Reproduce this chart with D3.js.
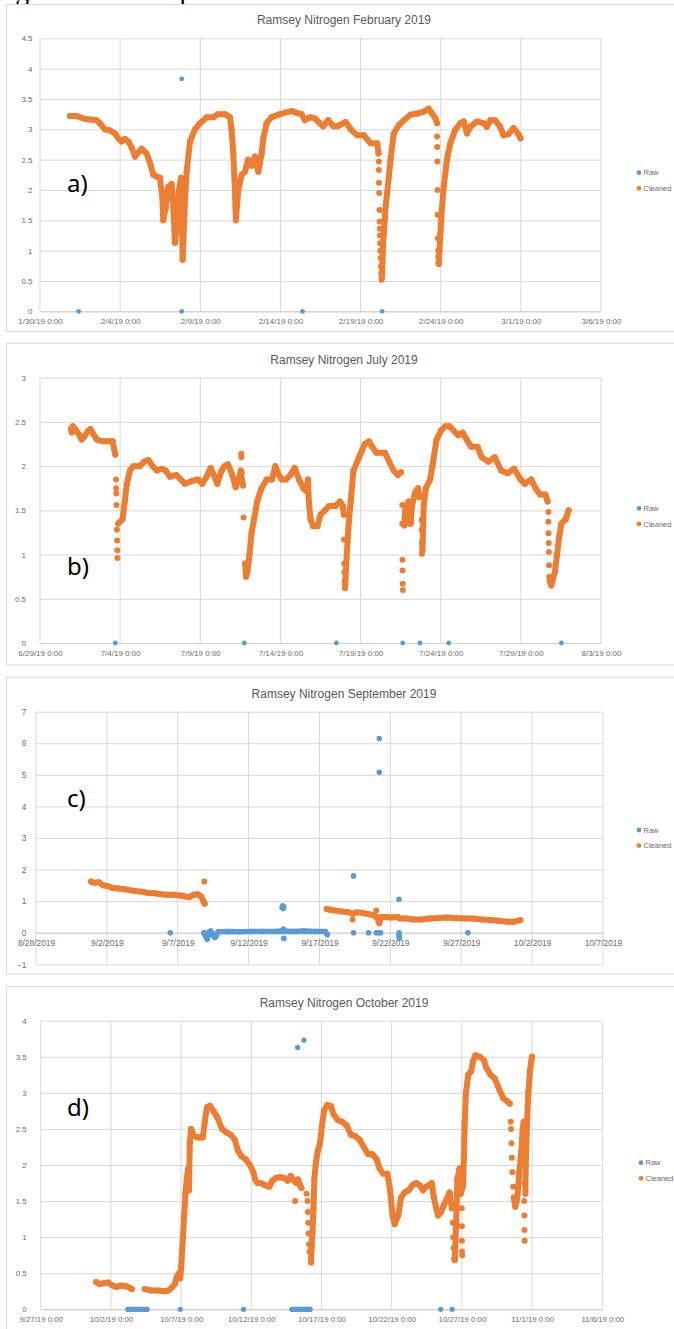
<!DOCTYPE html>
<html>
<head>
<meta charset="utf-8">
<script src="https://cdn.jsdelivr.net/npm/d3@7"></script>
<style>
  body { margin: 0; background: #fff; }
  svg { display: block; }
</style>
</head>
<body>
<script>
// ---------- data (day offsets from the first axis date, value) ----------
const titles = ['Ramsey Nitrogen February 2019', 'Ramsey Nitrogen July 2019', 'Ramsey Nitrogen September 2019', 'Ramsey Nitrogen October 2019'];
const startDates = ['2019-01-30', '2019-06-29', '2019-08-28', '2019-09-27'];
const spanDays = [35, 35, 40, 40];
const xTickFormats = ['%-m/%-d/%y %-H:%M', '%-m/%-d/%y %-H:%M', '%-m/%-d/%Y', '%-m/%-d/%y %-H:%M'];
const febYTicks = [0, 0.5, 1, 1.5, 2, 2.5, 3, 3.5, 4, 4.5];
const julYTicks = [0, 0.5, 1, 1.5, 2, 2.5, 3];
const sepYTicks = [-1, 0, 1, 2, 3, 4, 5, 6, 7];
const octYTicks = [0, 0.5, 1, 1.5, 2, 2.5, 3, 3.5, 4];
const legendNames = ['Raw', 'Cleaned'];
const tags = ['a)', 'b)', 'c)', 'd)'];

// February
const febRawDots = [[2.41, 0], [8.84, 3.83], [8.84, 0], [16.38, 0], [21.35, 0]];
const febCleanedTrace = [
  [[1.87,3.22],[2.29,3.22],[2.70,3.18],[3.12,3.16],[3.53,3.15],[3.74,3.10],[4.05,3.00],[4.37,2.98],[4.68,2.93],[4.89,2.85],[5.09,2.80],[5.30,2.84],[5.51,2.80],[5.72,2.70],[5.93,2.55],[6.13,2.62],[6.34,2.68],[6.65,2.60],[6.86,2.45],[7.07,2.25],[7.28,2.22],[7.48,2.20],[7.63,1.90],[7.69,1.50],[7.84,1.70],[8.00,2.05],[8.21,2.10],[8.32,1.70],[8.42,1.13],[8.52,1.40],[8.67,2.00],[8.80,2.20],[8.90,0.85],[9.04,1.80],[9.15,2.30],[9.36,2.80],[9.67,3.00],[9.98,3.10],[10.40,3.20],[10.81,3.20],[11.12,3.25],[11.54,3.25],[11.85,3.20],[11.95,3.00],[12.06,2.60],[12.16,2.00],[12.22,1.50],[12.37,2.00],[12.58,2.25],[12.79,2.30],[12.99,2.50],[13.20,2.40],[13.41,2.55],[13.62,2.30],[13.72,2.45],[13.83,2.60],[13.93,2.85],[14.14,3.10],[14.45,3.20],[14.97,3.25],[15.38,3.28],[15.70,3.30],[16.01,3.27],[16.32,3.25],[16.53,3.15],[16.84,3.20],[17.15,3.18],[17.46,3.10],[17.67,3.05],[17.98,3.15],[18.30,3.05],[18.55,3.05],[19.07,3.12],[19.38,3.00],[19.79,2.90],[20.21,2.90],[20.62,2.77],[21.04,2.77],[21.12,2.60]],
  [[21.34,0.55],[21.37,0.85],[21.41,1.15],[21.45,1.30],[21.52,1.55],[21.56,1.72],[21.66,1.95],[21.87,2.50],[22.07,2.93],[22.39,3.07],[22.70,3.15],[23.11,3.24],[23.53,3.26],[23.94,3.29],[24.25,3.34],[24.46,3.26],[24.67,3.18],[24.77,3.10]],
  [[24.88,0.78],[24.92,1.00],[24.98,1.28],[25.08,1.72],[25.19,2.05],[25.39,2.50],[25.60,2.77],[25.91,2.99],[26.22,3.10],[26.43,3.13],[26.64,2.93],[26.85,3.04],[27.26,3.13],[27.68,3.10],[27.88,3.04],[28.09,3.15],[28.40,3.15],[28.71,3.04],[28.92,2.90],[29.23,2.92],[29.54,3.02],[29.85,2.92],[29.98,2.85]]
];
const febCleanedDots = [[21.14,2.47],[21.14,2.33],[21.15,2.12],[21.16,1.95],[21.18,1.67],[21.19,1.48],[21.20,1.36],[21.21,1.25],[21.22,1.12],[21.23,1.00],[21.25,0.88],[21.27,0.74],[21.29,0.62],[21.31,0.52],[24.77,2.88],[24.78,2.71],[24.79,2.47],[24.80,2.00],[24.81,1.59],[24.83,1.20],[24.84,1.00],[24.85,0.90],[24.86,0.80]];

// July
const julRawDots = [[4.70,0],[12.75,0],[18.49,0],[22.63,0],[23.70,0],[25.50,0],[32.53,0]];
const julCleanedTrace = [
  [[1.93,2.42],[1.98,2.38],[2.05,2.45],[2.20,2.42],[2.47,2.35],[2.60,2.30],[2.74,2.33],[3.01,2.40],[3.15,2.42],[3.27,2.38],[3.54,2.30],[3.95,2.28],[4.35,2.28],[4.54,2.28],[4.62,2.20],[4.70,2.13]],
  [[4.88,1.35],[5.15,1.40],[5.29,1.60],[5.42,1.80],[5.61,1.95],[5.82,2.00],[6.23,2.00],[6.49,2.05],[6.76,2.07],[7.03,2.00],[7.30,1.95],[7.57,1.97],[7.84,1.95],[8.11,1.88],[8.51,1.90],[8.78,1.85],[9.04,1.80],[9.45,1.83],[9.85,1.85],[10.12,1.80],[10.39,1.88],[10.65,1.98],[10.84,1.90],[11.06,1.80],[11.33,1.95],[11.51,2.00],[11.73,2.02],[12.00,1.90],[12.21,1.76],[12.40,1.85],[12.53,1.95],[12.59,1.85],[12.67,1.78]],
  [[12.80,0.90],[12.86,0.75],[12.94,0.80],[13.07,1.00],[13.20,1.25],[13.34,1.38],[13.55,1.60],[13.82,1.75],[14.14,1.85],[14.47,1.85],[14.68,2.00],[14.90,1.90],[15.08,1.85],[15.35,1.85],[15.62,1.90],[15.89,1.98],[16.16,1.85],[16.43,1.75],[16.61,1.72],[16.72,1.85],[16.77,1.60],[16.88,1.40],[17.04,1.32],[17.31,1.32],[17.50,1.45],[17.77,1.50],[18.04,1.55],[18.44,1.55],[18.71,1.60],[18.89,1.55],[18.97,1.45]],
  [[19.03,0.62],[19.11,0.90],[19.24,1.30],[19.38,1.60],[19.56,1.95],[19.91,2.10],[20.26,2.25],[20.53,2.28],[20.72,2.22],[20.99,2.15],[21.26,2.15],[21.52,2.15],[21.79,2.05],[22.06,1.95],[22.33,1.90],[22.52,1.93]],
  [[22.73,1.33],[22.80,1.55],[22.87,1.55],[23.00,1.60],[23.06,1.35],[23.13,1.35],[23.20,1.55],[23.27,1.60],[23.40,1.70],[23.59,1.75],[23.67,1.65]],
  [[23.86,1.05],[23.90,1.30],[23.94,1.55],[24.07,1.75],[24.34,1.85],[24.48,2.00],[24.74,2.30],[25.01,2.40],[25.28,2.45],[25.55,2.45],[25.82,2.40],[26.09,2.35],[26.36,2.38],[26.62,2.30],[26.89,2.22],[27.29,2.22],[27.56,2.10],[27.97,2.05],[28.37,2.10],[28.77,1.95],[29.17,1.92],[29.58,1.97],[29.98,1.85],[30.25,1.80],[30.65,1.85],[30.92,1.75],[31.19,1.68],[31.53,1.68],[31.67,1.60]],
  [[31.80,0.70],[31.90,0.65],[31.99,0.72],[32.12,0.80],[32.26,1.00],[32.39,1.20],[32.53,1.35],[32.80,1.40],[32.98,1.50]]
];
const julCleanedDots = [[4.75,1.85],[4.75,1.75],[4.76,1.69],[4.77,1.56],[4.80,1.28],[4.81,1.16],[4.82,1.05],[4.83,0.96],[12.55,2.14],[12.56,2.10],[12.58,1.93],[12.70,1.42],[18.97,1.17],[18.98,0.90],[18.99,0.80],[19.00,0.70],[22.60,1.56],[22.60,1.35],[22.61,0.94],[22.62,0.82],[22.63,0.67],[22.64,0.60],[23.81,1.39],[23.81,1.28],[23.82,1.13],[23.83,1.01],[31.72,1.48],[31.72,1.37],[31.73,1.24],[31.74,1.13],[31.75,1.03],[31.76,0.88],[31.77,0.75]];

// September
const sepRawTrace = [
  [[11.85,0],[11.96,-0.10],[12.08,-0.20],[12.20,0.02],[12.32,0.05],[12.47,-0.05],[12.62,-0.15],[12.70,-0.10],[12.85,0.03],[13.6,0.04],[14.4,0.03],[15.2,0.04],[16.0,0.04],[16.8,0.04],[17.3,0.05],[18.1,0.04],[18.9,0.05],[19.7,0.04],[20.4,0.04],[20.55,-0.06]]
];
const sepRawDots = [[9.47,0],[17.36,0.80],[17.40,0.85],[17.45,0.77],[17.48,0.82],[17.45,0.12],[17.48,-0.18],[22.40,1.80],[22.40,0],[23.46,0],[24.01,0],[24.16,0],[24.31,0],[24.22,6.15],[24.22,5.08],[25.61,1.06],[25.61,0],[25.61,-0.08],[25.62,-0.13],[25.63,-0.17],[30.47,0]];
const sepCleanedTrace = [
  [[3.88,1.62],[4.13,1.58],[4.43,1.60],[4.74,1.50],[5.04,1.48],[5.40,1.42],[5.80,1.40],[6.25,1.38],[6.56,1.35],[7.01,1.32],[7.47,1.30],[7.92,1.26],[8.38,1.25],[8.83,1.22],[9.29,1.20],[9.74,1.20],[10.20,1.18],[10.50,1.15],[10.80,1.12],[11.11,1.20],[11.41,1.22],[11.65,1.15],[11.81,1.00],[11.90,0.92]],
  [[20.52,0.75],[20.82,0.72],[21.43,0.68],[22.03,0.65],[22.34,0.60],[22.64,0.65],[23.10,0.62],[23.55,0.58],[23.85,0.55],[24.10,0.45],[24.22,0.30],[24.31,0.50],[24.61,0.50],[25.07,0.48],[25.52,0.50],[25.68,0.45],[26.13,0.45],[26.59,0.42],[27.19,0.42],[27.80,0.45],[28.41,0.47],[29.01,0.48],[29.62,0.47],[30.23,0.45],[30.83,0.45],[31.44,0.42],[32.05,0.40],[32.66,0.38],[33.26,0.35],[33.72,0.35],[34.17,0.40]]
];
const sepCleanedDots = [[11.88,1.62],[24.01,0.70],[22.34,0.42]];

// October
const octRawTrace = [
  [[6.22,0],[6.6,0],[7.0,0],[7.3,0],[7.57,0]],
  [[17.90,0],[18.3,0],[18.7,0],[19.0,0],[19.18,0]]
];
const octRawDots = [[9.94,0],[14.45,0],[18.30,3.63],[18.75,3.73],[28.49,0],[29.31,0]];
const octCleanedTrace = [
  [[3.95,0.38],[4.19,0.35],[4.50,0.36],[4.80,0.37],[5.11,0.33],[5.42,0.31],[5.72,0.33],[6.03,0.32],[6.33,0.30],[6.49,0.28]],
  [[7.41,0.28],[7.86,0.26],[8.32,0.26],[8.78,0.25],[9.09,0.26],[9.33,0.30],[9.55,0.35],[9.70,0.45],[9.85,0.50],[9.94,0.43],[10.01,0.60],[10.07,0.80],[10.13,1.00],[10.22,1.30],[10.31,1.60],[10.40,1.80],[10.50,1.95],[10.56,1.65],[10.62,2.30],[10.71,2.50],[10.92,2.40],[11.23,2.38],[11.54,2.38],[11.69,2.60],[11.84,2.80],[12.06,2.82],[12.30,2.75],[12.61,2.65],[12.91,2.50],[13.22,2.45],[13.53,2.42],[13.83,2.35],[14.05,2.20],[14.29,2.12],[14.60,2.08],[14.90,2.00],[15.15,1.90],[15.27,1.80],[15.45,1.75],[15.67,1.75],[15.97,1.72],[16.28,1.70],[16.49,1.78],[16.74,1.82],[17.04,1.83],[17.35,1.82],[17.60,1.78],[17.81,1.85],[17.96,1.80],[18.21,1.75],[18.33,1.80],[18.48,1.72],[18.57,1.68]],
  [[19.25,0.65],[19.34,1.00],[19.43,1.40],[19.49,1.80],[19.58,2.00],[19.74,2.20],[19.89,2.30],[20.04,2.55],[20.17,2.75],[20.41,2.83],[20.66,2.82],[20.87,2.70],[21.17,2.62],[21.48,2.60],[21.79,2.55],[22.09,2.42],[22.40,2.40],[22.71,2.35],[23.01,2.25],[23.32,2.15],[23.62,2.15],[23.93,2.08],[24.14,1.95],[24.39,1.88],[24.69,1.88],[24.85,1.70],[24.94,1.55],[25.06,1.30],[25.21,1.18],[25.46,1.30],[25.67,1.55],[25.92,1.62],[26.22,1.65],[26.47,1.72],[26.77,1.75],[26.99,1.72],[27.23,1.65],[27.45,1.70],[27.66,1.72],[27.85,1.75],[28.00,1.55],[28.15,1.42],[28.30,1.30],[28.52,1.35],[28.73,1.45],[28.98,1.55],[29.13,1.62],[29.28,1.40]],
  [[29.50,0.68],[29.59,1.20],[29.68,1.80],[29.83,1.95],[29.92,1.60]],
  [[30.08,1.70],[30.14,2.10],[30.20,2.60],[30.29,3.00],[30.45,3.25],[30.66,3.30],[30.81,3.45],[30.97,3.52],[31.27,3.50],[31.58,3.45],[31.73,3.35],[32.04,3.25],[32.34,3.20],[32.65,3.05],[32.96,2.92],[33.26,2.88],[33.41,2.85]],
  [[33.70,1.55],[33.80,1.42],[33.90,1.50],[33.97,1.60],[34.09,1.90],[34.24,2.20],[34.33,2.50],[34.40,2.60]],
  [[34.52,1.60],[34.55,2.00],[34.64,2.60],[34.73,3.00],[34.85,3.30],[34.95,3.45],[35.00,3.50]]
];
const octCleanedDots = [[18.12,1.50],[18.94,1.60],[19.00,1.50],[19.03,1.35],[19.05,1.20],[19.08,1.05],[19.12,0.90],[19.15,0.80],[29.35,1.20],[29.38,1.00],[29.41,0.85],[29.44,0.70],[29.99,1.90],[29.99,1.65],[29.99,1.40],[30.00,1.15],[30.00,0.95],[30.01,0.80],[30.02,0.75],[33.48,2.60],[33.50,2.50],[33.53,2.30],[33.56,2.10],[33.60,1.90],[33.65,1.70],[34.42,2.30],[34.42,2.00],[34.43,1.75],[34.44,1.50],[34.45,1.30],[34.46,1.10],[34.47,0.95]];

// ---------- layout ----------
const W = 674, H = 1329;
const rawColor = '#5b9bd5', cleanColor = '#ed7d31';
const gridColor = '#d9d9d9', textColor = '#6b6b6b';

const panels = [
  { yTicks: febYTicks, rawTrace: [], rawDots: febRawDots, cleanTrace: febCleanedTrace, cleanDots: febCleanedDots,
    frame: [4.5, 331.5], px: [40, 601], py: [38.3, 311.3], titleY: 20, legendX: 639, legendY: 172.7,
    yLabelRight: 32.5, tickFont: 8, rawR: 2.4, tag: [67, 191.5] },
  { yTicks: julYTicks, rawTrace: [], rawDots: julRawDots, cleanTrace: julCleanedTrace, cleanDots: julCleanedDots,
    frame: [343.3, 665], px: [40, 601], py: [377.7, 643], titleY: 359.3, legendX: 639, legendY: 508.3,
    yLabelRight: 26, tickFont: 8, rawR: 2.4, tag: [67, 575] },
  { yTicks: sepYTicks, rawTrace: sepRawTrace, rawDots: sepRawDots, cleanTrace: sepCleanedTrace, cleanDots: sepCleanedDots,
    frame: [677.3, 974], px: [36, 603], py: [711.7, 964.3], titleY: 693.3, legendX: 639, legendY: 830,
    yLabelRight: 26.5, tickFont: 8.4, rawR: 2.8, tag: [67, 806.7] },
  { yTicks: octYTicks, rawTrace: octRawTrace, rawDots: octRawDots, cleanTrace: octCleanedTrace, cleanDots: octCleanedDots,
    frame: [986.7, 1400], px: [40.7, 602.3], py: [1020.7, 1309.3], titleY: 1002.3, legendX: 641, legendY: 1162.7,
    yLabelRight: 26.5, tickFont: 7.8, rawR: 2.6, tag: [67, 1116] }
];

const svg = d3.select('body').append('svg').attr('width', W).attr('height', H);

// bottom edge of the caption line above the charts (page is cut here)
svg.append('text')
  .attr('x', -8).attr('y', -0.5)
  .style('font', '28px "Liberation Serif", serif')
  .attr('fill', '#000')
  .text('Figure 14. Examples');

function plotSeries(g, trace, dots, color, r, x, y) {
  const line = d3.line().x(p => x(p[0])).y(p => y(p[1]));
  g.append('g').selectAll('path').data(trace).join('path')
    .attr('d', line)
    .attr('fill', 'none')
    .attr('stroke', color)
    .attr('stroke-width', r * 2)
    .attr('stroke-linecap', 'round')
    .attr('stroke-linejoin', 'round');
  g.append('g').selectAll('circle').data(trace.flat().concat(dots)).join('circle')
    .attr('cx', p => x(p[0]))
    .attr('cy', p => y(p[1]))
    .attr('r', r)
    .attr('fill', color);
}

panels.forEach((p, i) => {
  const g = svg.append('g');
  const t0 = d3.utcParse('%Y-%m-%d')(startDates[i]);
  const toDate = d => new Date(t0.getTime() + d * 864e5);
  const xScale = d3.scaleUtc().domain([t0, toDate(spanDays[i])]).range(p.px);
  const x = d => xScale(toDate(d));
  const yScale = d3.scaleLinear().domain(d3.extent(p.yTicks)).range([p.py[1], p.py[0]]);
  const xTicks = d3.range(0, spanDays[i] + 1, 5).map(toDate);

  // chart frame
  g.append('rect')
    .attr('x', 6.5).attr('y', p.frame[0])
    .attr('width', 720).attr('height', p.frame[1] - p.frame[0])
    .attr('fill', '#fff').attr('stroke', gridColor);

  // title
  g.append('text')
    .attr('x', 344).attr('y', p.titleY).attr('dy', '0.35em')
    .attr('text-anchor', 'middle')
    .style('font', '12px "Liberation Sans", Arial, sans-serif')
    .attr('fill', '#595959')
    .text(titles[i]);

  // horizontal gridlines + y labels
  const yAxis = d3.axisLeft(yScale).tickValues(p.yTicks)
    .tickSize(-(p.px[1] - p.px[0]))
    .tickPadding(p.px[0] - p.yLabelRight)
    .tickFormat(d3.format('~g'));
  const ya = g.append('g').attr('transform', `translate(${p.px[0]},0)`).call(yAxis);
  ya.select('.domain').remove();
  ya.selectAll('line').attr('stroke', gridColor);
  ya.selectAll('text').attr('fill', textColor)
    .style('font', `${p.tickFont}px "Liberation Sans", Arial, sans-serif`);

  // vertical gridlines
  g.append('g').selectAll('line').data(xTicks).join('line')
    .attr('x1', d => xScale(d)).attr('x2', d => xScale(d))
    .attr('y1', p.py[0]).attr('y2', p.py[1])
    .attr('stroke', gridColor);

  // x labels sit under the zero line
  const xAxis = d3.axisBottom(xScale).tickValues(xTicks)
    .tickSize(0).tickPadding(7.5)
    .tickFormat(d3.utcFormat(xTickFormats[i]));
  const xa = g.append('g').attr('transform', `translate(0,${yScale(0)})`).call(xAxis);
  xa.select('.domain').attr('stroke', '#cfcfcf');
  xa.selectAll('text').attr('fill', textColor)
    .style('font', `${p.tickFont}px "Liberation Sans", Arial, sans-serif`);

  // series
  plotSeries(g, p.rawTrace, p.rawDots, rawColor, p.rawR, x, yScale);
  plotSeries(g, p.cleanTrace, p.cleanDots, cleanColor, 3, x, yScale);

  // panel tag
  g.append('text')
    .attr('x', p.tag[0]).attr('y', p.tag[1])
    .style('font', '24px "Noto Sans", sans-serif')
    .attr('fill', '#000')
    .text(tags[i]);

  // legend
  const lg = g.append('g').selectAll('g').data(legendNames).join('g')
    .attr('transform', (d, k) => `translate(${p.legendX},${p.legendY + k * 15.6})`);
  lg.append('circle').attr('r', 2.4).attr('fill', (d, k) => k ? cleanColor : rawColor);
  lg.append('text').attr('x', 4.5).attr('dy', '0.35em')
    .style('font', '7.5px "Liberation Sans", Arial, sans-serif')
    .attr('fill', textColor)
    .text(d => d);
});
</script>
</body>
</html>
